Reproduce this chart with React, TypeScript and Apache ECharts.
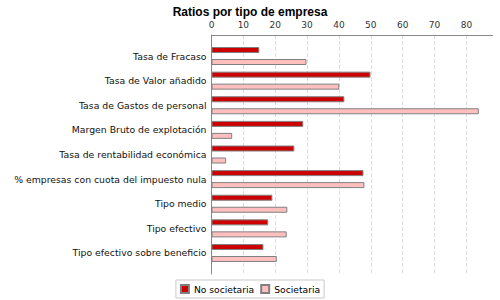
import React, { useEffect, useRef } from "react";
import * as echarts from "echarts";

const categories = [
  "Tasa de Fracaso",
  "Tasa de Valor añadido",
  "Tasa de Gastos de personal",
  "Margen Bruto de explotación",
  "Tasa de rentabilidad económica",
  "% empresas con cuota del impuesto nula",
  "Tipo medio",
  "Tipo efectivo",
  "Tipo efectivo sobre beneficio",
];
const noSocietaria = [15.0, 49.9, 41.7, 28.8, 26.0, 47.7, 19.1, 17.8, 16.3];
const societaria = [29.8, 40.1, 83.9, 6.5, 4.6, 48.0, 23.8, 23.6, 20.5];
const seriesNames = ["No societaria", "Societaria"];
const axisMax = 88.2;

const FONT = "DejaVu Sans";

export default function App() {
  const ref = useRef<HTMLDivElement>(null);
  useEffect(() => {
    if (!ref.current) return;
    const chart = echarts.init(ref.current, undefined, { renderer: "svg" });
    const barStyle = (color: string) => ({
      color,
      borderColor: "#808080",
      borderWidth: 1,
    });
    chart.setOption({
      animation: false,
      backgroundColor: "#ffffff",
      title: {
        text: "Ratios por tipo de empresa",
        left: "center",
        top: 1,
        textStyle: {
          fontFamily: "Liberation Sans",
          fontWeight: "bold",
          fontSize: 12,
          color: "#000",
        },
      },
      legend: {
        data: seriesNames,
        left: "center",
        top: 280,
        itemWidth: 8,
        itemHeight: 8,
        itemGap: 6,
        padding: [4, 4],
        borderColor: "#c8c8c8",
        borderWidth: 1,
        icon: "rect",
        textStyle: { fontFamily: FONT, fontSize: 9.2, color: "#000" },
      },
      grid: [
        { left: 211.5, right: 7.5, top: 43.7, bottom: 34.7 },
        { left: 211.5, right: 7.5, top: 35, bottom: 26 },
      ],
      xAxis: [
        { gridIndex: 0, type: "value", min: 0, max: axisMax, show: false },
        {
          gridIndex: 1,
          type: "value",
          position: "top",
          min: 0,
          max: axisMax,
          interval: 10,
          axisLine: { show: true, onZero: false, lineStyle: { color: "#888" } },
          axisTick: { show: false },
          axisLabel: {
            fontFamily: FONT,
            fontSize: 9,
            color: "#333",
            margin: 6,
            showMaxLabel: false,
          },
          splitLine: {
            show: true,
            showMinLine: false,
            showMaxLine: false,
            lineStyle: { type: "dashed", color: "#dcdcdc" },
          },
        },
      ],
      yAxis: [
        {
          gridIndex: 0,
          type: "category",
          data: categories,
          inverse: true,
          axisLine: { show: false },
          axisTick: { show: false },
          axisLabel: { fontFamily: FONT, fontSize: 9.3, color: "#111", margin: 5 },
        },
        {
          gridIndex: 1,
          type: "value",
          min: 0,
          max: 1,
          axisLine: { show: true, onZero: false, lineStyle: { color: "#888" } },
          axisTick: { show: false },
          axisLabel: { show: false },
          splitLine: { show: false },
        },
      ],
      series: [
        {
          name: seriesNames[0],
          type: "bar",
          xAxisIndex: 0,
          yAxisIndex: 0,
          data: noSocietaria,
          barWidth: 6,
          barGap: "100%",
          itemStyle: barStyle("#cc0000"),
        },
        {
          name: seriesNames[1],
          type: "bar",
          xAxisIndex: 0,
          yAxisIndex: 0,
          data: societaria,
          barWidth: 6,
          barGap: "100%",
          itemStyle: barStyle("#ffbfbf"),
        },
      ],
    });
    return () => chart.dispose();
  }, []);
  return (
    <div
      ref={ref}
      style={{ position: "absolute", left: 0, top: 0, width: 500, height: 300 }}
    />
  );
}
